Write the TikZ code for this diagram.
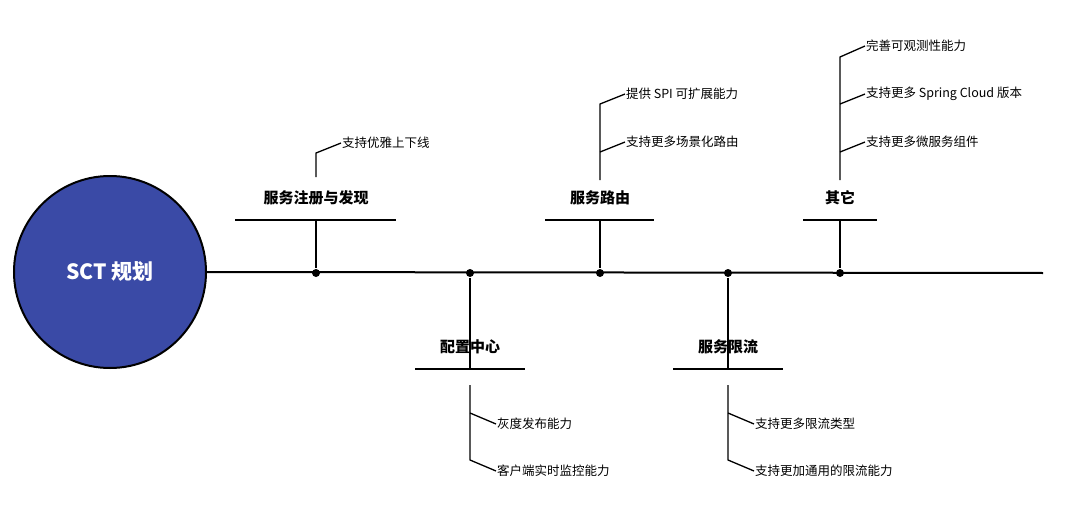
\documentclass[tikz,border=0pt]{standalone}
\usepackage{fontspec}
\setmainfont{Noto Sans CJK SC}
\begin{document}
\begin{tikzpicture}[x=1pt,y=-1pt,line width=2pt,
  head/.style={font=\fontsize{15}{18}\selectfont\bfseries,inner sep=0},
  item/.style={font=\fontsize{12.5}{15}\selectfont,anchor=west,inner sep=0},
  dot/.style={circle,fill=black,inner sep=0,minimum size=8pt}]
\useasboundingbox (0,0) rectangle (1080,527);
\node[circle,fill={rgb,255:red,58;green,74;blue,166},draw=black,line width=2pt,minimum size=192pt,text=white,font=\fontsize{21}{25}\selectfont\bfseries] (c) at (110,272) {SCT 规划};
\coordinate (e) at (1043,273);
\draw (c.east) -- (e);
\foreach \n/\x in {d1/316,d2/470,d3/600,d4/728,d5/840} \node[dot] (\n) at (\x,273) {};
% top heads
\node[head] (h1) at (316,198) {服务注册与发现};
\node[head] (h3) at (600,198) {服务路由};
\node[head] (h5) at (840,198) {其它};
\draw (235,220) -- (396,220); \draw (316,220) -- (d1);
\draw (545,220) -- (654,220); \draw (600,220) -- (d3);
\draw (803,220) -- (877,220); \draw (840,220) -- (d5);
% bottom heads
\node[head] (h2) at (470,347) {配置中心};
\node[head] (h4) at (728,347) {服务限流};
\draw (415,369) -- (525,369); \draw (470,369) -- (d2);
\draw (673,369) -- (783,369); \draw (728,369) -- (d4);
% top items
\node[item] (t11) at (341,143) {支持优雅上下线};
\draw[line width=1.3pt] (316,177) -- (316,153) -- (t11.west);
\node[item] (t31) at (625,94) {提供 SPI 可扩展能力};
\node[item] (t32) at (625,142) {支持更多场景化路由};
\draw[line width=1.3pt] (600,180) -- (600,104) -- (t31.west);
\draw[line width=1.3pt] (600,152) -- (t32.west);
\node[item] (t51) at (865,46) {完善可观测性能力};
\node[item] (t52) at (865,94) {支持更多 Spring Cloud 版本};
\node[item] (t53) at (865,142) {支持更多微服务组件};
\draw[line width=1.3pt] (840,180) -- (840,57) -- (t51.west);
\draw[line width=1.3pt] (840,104) -- (t52.west);
\draw[line width=1.3pt] (840,152) -- (t53.west);
% bottom items
\node[item] (b21) at (496,424) {灰度发布能力};
\node[item] (b22) at (496,471) {客户端实时监控能力};
\draw[line width=1.3pt] (470,385) -- (470,460) -- (b22.west);
\draw[line width=1.3pt] (470,413) -- (b21.west);
\node[item] (b41) at (754,424) {支持更多限流类型};
\node[item] (b42) at (754,471) {支持更加通用的限流能力};
\draw[line width=1.3pt] (728,385) -- (728,460) -- (b42.west);
\draw[line width=1.3pt] (728,413) -- (b41.west);
\end{tikzpicture}
\end{document}
